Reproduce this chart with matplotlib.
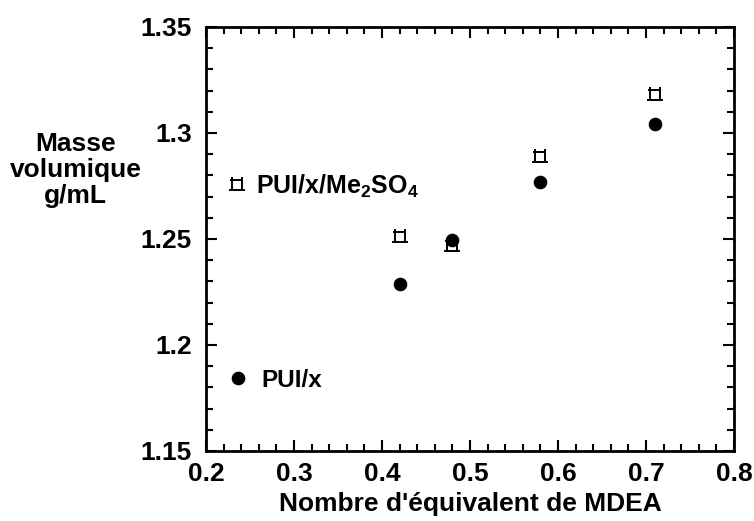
import numpy as np
import matplotlib.pyplot as plt
from matplotlib.path import Path
from matplotlib.lines import Line2D
from matplotlib.ticker import MultipleLocator

plt.rcParams['font.family'] = ['Liberation Sans', 'DejaVu Sans']
plt.rcParams['font.weight'] = 'bold'
plt.rcParams['mathtext.fontset'] = 'custom'
plt.rcParams['mathtext.rm'] = 'Liberation Sans:bold'
plt.rcParams['mathtext.it'] = 'Liberation Sans:bold'
plt.rcParams['mathtext.bf'] = 'Liberation Sans:bold'

# données
mdea = [0.42, 0.48, 0.58, 0.71]
rho_pui = [1.229, 1.2495, 1.2767, 1.3042]
rho_me2so4 = [1.2508, 1.2468, 1.2887, 1.318]

# marqueur "carré à pattes" comme dans l'original
verts = [(-1, 1.5), (-1, -1), (-1.5, -1), (1.5, -1), (1, -1), (1, 1.5),
         (1, 1), (-1.3, 1)]
codes = [Path.MOVETO, Path.LINETO, Path.MOVETO, Path.LINETO,
         Path.MOVETO, Path.LINETO, Path.MOVETO, Path.LINETO]
carre = Path(verts, codes)

fig = plt.figure(figsize=(7.54, 5.21), dpi=100)
ax = fig.add_axes([0.2732, 0.1344, 0.7003, 0.8138])

ax.plot(mdea, rho_pui, 'o', color='black', markersize=8.8, linestyle='none')
ax.plot(mdea, rho_me2so4, marker=carre, color='black', markersize=11,
        markeredgewidth=1.4, fillstyle='none', linestyle='none')

ax.set_xlim(0.2, 0.8)
ax.set_ylim(1.15, 1.35)
ax.xaxis.set_minor_locator(MultipleLocator(0.02))
ax.yaxis.set_minor_locator(MultipleLocator(0.01))
ax.set_yticks([1.15, 1.2, 1.25, 1.3, 1.35])
ax.set_yticklabels(['1.15', '1.2', '1.25', '1.3', '1.35'])
ax.set_xticks([0.2, 0.3, 0.4, 0.5, 0.6, 0.7, 0.8])
ax.set_xticklabels(['0.2', '0.3', '0.4', '0.5', '0.6', '0.7', '0.8'])

ax.tick_params(which='both', direction='in', top=True, right=True, width=1.5,
               labelsize=19)
ax.tick_params(axis='x', pad=8)
ax.tick_params(axis='y', pad=10)
ax.tick_params(which='major', length=8)
ax.tick_params(which='minor', length=5)
for s in ax.spines.values():
    s.set_linewidth(2)

ax.set_xlabel("Nombre d'équivalent de MDEA", fontsize=19, fontweight='bold', labelpad=4)
fig.text(0.10, 0.674, "Masse\nvolumique\ng/mL", ha='center', va='center',
         fontsize=19, fontweight='bold', linespacing=1.1)

h_sq = Line2D([], [], marker=carre, color='black', markersize=11,
              markeredgewidth=1.4, fillstyle='none', linestyle='none')
h_ci = Line2D([], [], marker='o', color='black', markersize=8.8, linestyle='none')

leg1 = ax.legend([h_sq], [r"PUI/x/Me$_2$SO$_4$"], loc='center left',
                 bbox_to_anchor=(0.047, 0.625), frameon=False, handlelength=0.5,
                 handletextpad=0.5, borderpad=0, borderaxespad=0,
                 prop={'size': 18, 'weight': 'bold'})
ax.add_artist(leg1)
ax.legend([h_ci], ["PUI/x"], loc='center left',
          bbox_to_anchor=(0.049, 0.167), frameon=False, handlelength=0.5,
          handletextpad=0.7, borderpad=0, borderaxespad=0,
          prop={'size': 17.5, 'weight': 'bold'})

fig.savefig('out.png', dpi=100)
